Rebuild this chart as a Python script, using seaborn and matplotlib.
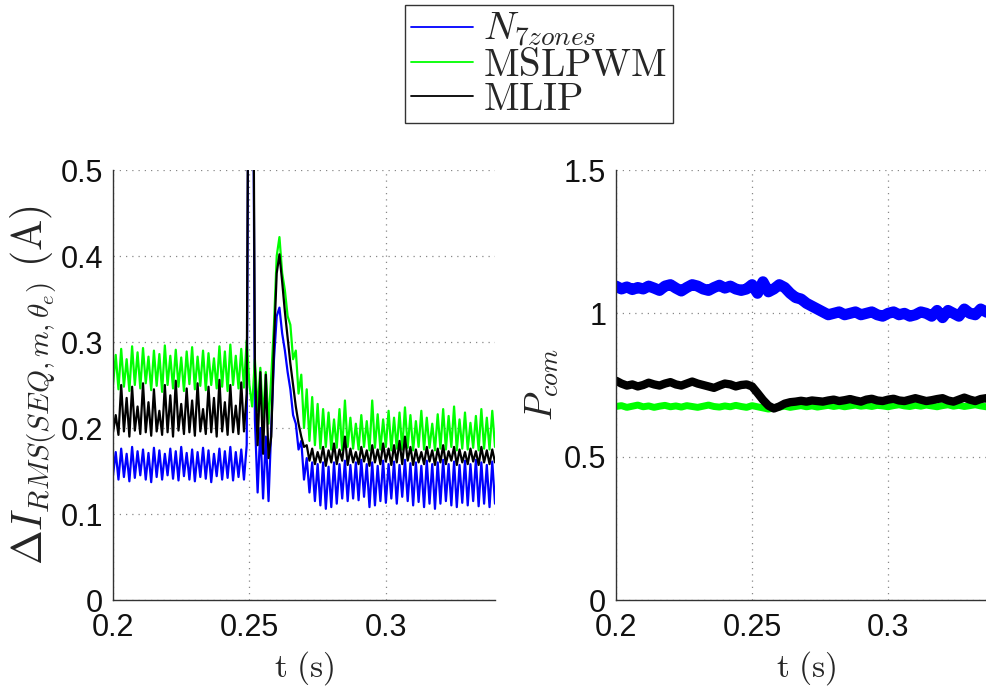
import numpy as np
import pandas as pd
import matplotlib
matplotlib.use("Agg")
import matplotlib.pyplot as plt
from matplotlib.lines import Line2D
import seaborn as sns

# ---------------- data ----------------
series_names = ["N7zones", "MSLPWM", "MLIP"]
legend_labels = [r"$N_{7zones}$", r"$\mathrm{MSLPWM}$", r"$\mathrm{MLIP}$"]
series_colors = ["#0000FF", "#00FF00", "#000000"]

x_ticks = [0.2, 0.25, 0.3]
x_tick_labels = ["0.2", "0.25", "0.3"]
left_y_ticks = [0, 0.1, 0.2, 0.3, 0.4, 0.5]
left_y_tick_labels = ["0", "0.1", "0.2", "0.3", "0.4", "0.5"]
right_y_ticks = [0, 0.5, 1, 1.5]
right_y_tick_labels = ["0", "0.5", "1", "1.5"]

# left panel: samples every 1 ms from 0.200 s to 0.340 s
t_left = np.round(0.2 + 0.001 * np.arange(141), 3)

left_n7zones = [
    0.145, 0.172, 0.140, 0.176, 0.143, 0.170, 0.138, 0.178, 0.142, 0.173,
    0.145, 0.175, 0.140, 0.171, 0.137, 0.177, 0.143, 0.174, 0.140, 0.170,
    0.145, 0.176, 0.141, 0.173, 0.139, 0.178, 0.144, 0.171, 0.140, 0.175,
    0.138, 0.172, 0.143, 0.177, 0.141, 0.174, 0.137, 0.170, 0.144, 0.176,
    0.140, 0.173, 0.142, 0.178, 0.139, 0.172, 0.143, 0.175, 0.140, 0.180,
    0.900, 0.900, 0.210, 0.125, 0.200, 0.118, 0.190, 0.115, 0.200, 0.280,
    0.330, 0.340, 0.310, 0.290, 0.265, 0.245, 0.215, 0.205, 0.175, 0.185,
    0.140, 0.165, 0.125, 0.160, 0.115, 0.158, 0.110, 0.160, 0.106, 0.155,
    0.108, 0.160, 0.112, 0.158, 0.118, 0.162, 0.115, 0.157, 0.118, 0.160,
    0.116, 0.163, 0.120, 0.158, 0.108, 0.160, 0.110, 0.156, 0.115, 0.162,
    0.113, 0.158, 0.118, 0.161, 0.112, 0.157, 0.120, 0.163, 0.115, 0.159,
    0.110, 0.160, 0.114, 0.156, 0.108, 0.162, 0.112, 0.158, 0.106, 0.160,
    0.112, 0.163, 0.115, 0.158, 0.110, 0.161, 0.108, 0.157, 0.113, 0.162,
    0.110, 0.158, 0.115, 0.163, 0.109, 0.160, 0.112, 0.157, 0.108, 0.161,
    0.112,
]
left_mslpwm = [
    0.250, 0.285, 0.245, 0.292, 0.248, 0.280, 0.243, 0.295, 0.250, 0.288,
    0.246, 0.293, 0.252, 0.283, 0.244, 0.290, 0.249, 0.286, 0.242, 0.296,
    0.250, 0.284, 0.246, 0.291, 0.248, 0.282, 0.243, 0.289, 0.251, 0.294,
    0.245, 0.283, 0.249, 0.290, 0.244, 0.287, 0.250, 0.281, 0.246, 0.295,
    0.248, 0.289, 0.243, 0.297, 0.250, 0.284, 0.246, 0.292, 0.247, 0.302,
    0.250, 0.225, 0.280, 0.220, 0.270, 0.212, 0.265, 0.205, 0.260, 0.320,
    0.400, 0.422, 0.380, 0.360, 0.330, 0.320, 0.280, 0.290, 0.240, 0.262,
    0.200, 0.245, 0.185, 0.236, 0.180, 0.228, 0.176, 0.222, 0.178, 0.218,
    0.175, 0.210, 0.177, 0.222, 0.174, 0.232, 0.178, 0.212, 0.176, 0.205,
    0.175, 0.215, 0.178, 0.208, 0.174, 0.232, 0.177, 0.216, 0.175, 0.210,
    0.178, 0.220, 0.174, 0.212, 0.176, 0.218, 0.175, 0.224, 0.177, 0.215,
    0.174, 0.208, 0.178, 0.220, 0.175, 0.212, 0.177, 0.205, 0.174, 0.216,
    0.176, 0.222, 0.175, 0.214, 0.178, 0.225, 0.174, 0.210, 0.176, 0.218,
    0.175, 0.206, 0.177, 0.214, 0.174, 0.222, 0.176, 0.212, 0.175, 0.220,
    0.178,
]
left_mlip = [
    0.195, 0.215, 0.192, 0.250, 0.196, 0.235, 0.190, 0.248, 0.197, 0.225,
    0.193, 0.252, 0.195, 0.230, 0.191, 0.245, 0.196, 0.220, 0.192, 0.250,
    0.195, 0.238, 0.190, 0.255, 0.197, 0.228, 0.193, 0.246, 0.195, 0.232,
    0.191, 0.252, 0.196, 0.222, 0.193, 0.248, 0.195, 0.235, 0.190, 0.256,
    0.196, 0.230, 0.192, 0.250, 0.195, 0.226, 0.193, 0.253, 0.196, 0.240,
    0.900, 0.900, 0.272, 0.180, 0.265, 0.170, 0.262, 0.165, 0.190, 0.300,
    0.380, 0.402, 0.370, 0.335, 0.305, 0.275, 0.250, 0.225, 0.205, 0.190,
    0.178, 0.180, 0.162, 0.176, 0.158, 0.172, 0.160, 0.178, 0.156, 0.174,
    0.160, 0.182, 0.158, 0.175, 0.162, 0.190, 0.157, 0.176, 0.160, 0.172,
    0.158, 0.178, 0.161, 0.174, 0.156, 0.180, 0.160, 0.175, 0.158, 0.182,
    0.161, 0.176, 0.157, 0.180, 0.160, 0.185, 0.158, 0.190, 0.162, 0.178,
    0.157, 0.175, 0.160, 0.172, 0.158, 0.178, 0.161, 0.174, 0.157, 0.176,
    0.160, 0.180, 0.158, 0.173, 0.162, 0.178, 0.157, 0.175, 0.160, 0.172,
    0.158, 0.176, 0.161, 0.173, 0.157, 0.178, 0.160, 0.174, 0.158, 0.175,
    0.160,
]

# right panel: samples every 2 ms from 0.200 s to 0.340 s
t_right = np.round(0.2 + 0.002 * np.arange(71), 3)

right_n7zones = [
    1.095, 1.085, 1.092, 1.083, 1.090, 1.085, 1.095, 1.088, 1.080, 1.095,
    1.100, 1.088, 1.078, 1.090, 1.100, 1.095, 1.085, 1.080, 1.090, 1.098,
    1.088, 1.095, 1.085, 1.080, 1.085, 1.100, 1.070, 1.110, 1.075, 1.085,
    1.100, 1.090, 1.070, 1.055, 1.050, 1.035, 1.025, 1.015, 1.005, 0.995,
    1.000, 1.005, 0.995, 1.000, 1.005, 0.995, 1.000, 1.005, 0.995, 0.990,
    1.000, 1.005, 0.995, 1.000, 0.990, 0.995, 1.005, 1.000, 0.990, 1.010,
    0.985, 1.010, 1.000, 0.990, 1.015, 1.000, 0.995, 1.015, 1.005, 0.995,
    1.005,
]
right_mslpwm = [
    0.675, 0.678, 0.672, 0.676, 0.680, 0.674, 0.677, 0.672, 0.676, 0.679,
    0.674, 0.677, 0.673, 0.678, 0.675, 0.672, 0.676, 0.680, 0.675, 0.673,
    0.677, 0.674, 0.679, 0.675, 0.672, 0.678, 0.674, 0.670, 0.666, 0.670,
    0.673, 0.676, 0.672, 0.675, 0.678, 0.674, 0.677, 0.673, 0.676, 0.679,
    0.675, 0.678, 0.674, 0.677, 0.680, 0.676, 0.678, 0.675, 0.679, 0.677,
    0.674, 0.678, 0.681, 0.677, 0.675, 0.679, 0.676, 0.680, 0.677, 0.674,
    0.678, 0.681, 0.676, 0.679, 0.675, 0.678, 0.681, 0.677, 0.674, 0.678,
    0.677,
]
right_mlip = [
    0.765, 0.755, 0.748, 0.752, 0.745, 0.750, 0.758, 0.752, 0.748, 0.755,
    0.760, 0.752, 0.748, 0.755, 0.762, 0.755, 0.750, 0.745, 0.740, 0.748,
    0.755, 0.752, 0.745, 0.750, 0.752, 0.745, 0.722, 0.698, 0.678, 0.668,
    0.675, 0.685, 0.690, 0.692, 0.695, 0.692, 0.696, 0.694, 0.692, 0.696,
    0.699, 0.694, 0.697, 0.701, 0.696, 0.692, 0.699, 0.702, 0.696, 0.694,
    0.699, 0.702, 0.696, 0.694, 0.699, 0.704, 0.699, 0.694, 0.697, 0.701,
    0.704, 0.696, 0.692, 0.699, 0.706, 0.699, 0.694, 0.701, 0.704, 0.697,
    0.694,
]

left_values = [left_n7zones, left_mslpwm, left_mlip]
right_values = [right_n7zones, right_mslpwm, right_mlip]

# ---------------- style ----------------
sns.set_theme(style="white")
plt.rcParams["font.family"] = ["Liberation Sans", "DejaVu Sans"]
plt.rcParams["mathtext.fontset"] = "cm"

W, H = 986, 688
fig = plt.figure(figsize=(W / 100, H / 100), dpi=100)
ax1 = fig.add_axes([113 / W, 88 / H, (495 - 113) / W, 430 / H])
ax2 = fig.add_axes([616 / W, 88 / H, (997 - 616) / W, 430 / H])

df_left = pd.DataFrame({
    "t": np.concatenate([t_left] * 3),
    "value": np.concatenate([np.asarray(v) for v in left_values]),
    "series": np.repeat(series_names, len(t_left)),
})
sns.lineplot(data=df_left, x="t", y="value", hue="series", hue_order=series_names,
             palette=dict(zip(series_names, series_colors)), estimator=None,
             sort=False, linewidth=1.6, ax=ax1, legend=False)

right_lw = [8.0, 5.0, 6.0]
for name, vals, col, lw in zip(series_names, right_values, series_colors, right_lw):
    sns.lineplot(x=t_right, y=vals, color=col, linewidth=lw, ax=ax2,
                 estimator=None, sort=False, legend=False)

def style_axis(ax, yticks, ylabels, ylim):
    ax.set_xlim(0.2, 0.34)
    ax.set_ylim(*ylim)
    ax.set_xticks(x_ticks)
    ax.set_xticklabels(x_tick_labels)
    ax.set_yticks(yticks)
    ax.set_yticklabels(ylabels)
    ax.grid(True, linestyle=(0, (1, 4)), color="#888888", linewidth=0.9)
    for s in ["top", "right"]:
        ax.spines[s].set_visible(False)
    for s in ["left", "bottom"]:
        ax.spines[s].set_color("#333333")
        ax.spines[s].set_linewidth(1.0)
    ax.tick_params(direction="in", length=5, width=0.8, colors="#333333",
                   labelsize=22, labelcolor="#111111", pad=7)
    ax.tick_params(axis="x", pad=9)
    ax.set_xlabel(r"$\mathrm{t\ (s)}$", fontsize=24, labelpad=5)

style_axis(ax1, left_y_ticks, left_y_tick_labels, (0, 0.5))
style_axis(ax2, right_y_ticks, right_y_tick_labels, (0, 1.5))
ax1.set_ylabel(r"$\Delta I_{RMS(SEQ,m,\theta_e)}\ \mathrm{(A)}$", fontsize=30, labelpad=2)
ax2.set_ylabel(r"$P_{com}$", fontsize=27, labelpad=2)

handles = [Line2D([], [], color=c, linewidth=1.3) for c in series_colors]
leg = fig.legend(handles, legend_labels, loc="upper center",
                 bbox_to_anchor=(539 / W, 1 - 5 / H), fontsize=28,
                 frameon=True, fancybox=False, framealpha=1, edgecolor="#333333",
                 handlelength=1.6, handletextpad=0.25, labelspacing=-0.05,
                 borderpad=0.15, borderaxespad=0)
leg.get_frame().set_linewidth(1.0)

fig.savefig("out.png", dpi=100)
